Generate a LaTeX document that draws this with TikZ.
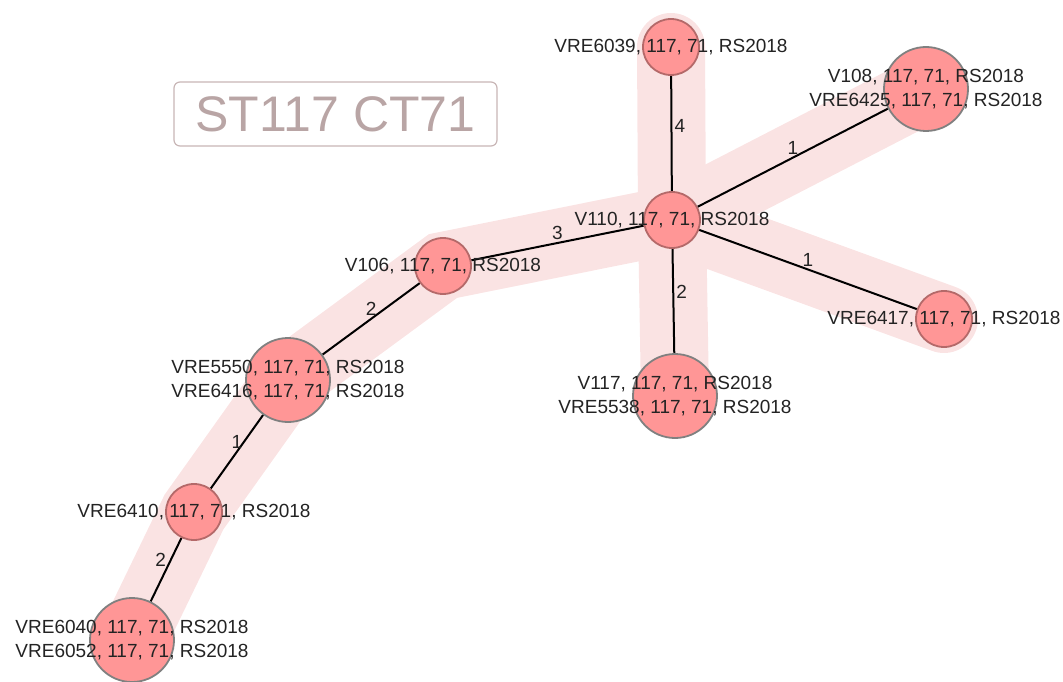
\documentclass[tikz,border=0pt]{standalone}
\usepackage{fontspec}
\setmainfont{Liberation Sans}
\usetikzlibrary{positioning}
\definecolor{bandpink}{RGB}{250,227,227}
\definecolor{nodered}{RGB}{255,150,150}
\definecolor{rimred}{RGB}{180,105,105}
\definecolor{rimgray}{RGB}{128,128,128}
\definecolor{txtgray}{RGB}{35,35,35}
\definecolor{titlerose}{RGB}{185,165,165}
\definecolor{boxrose}{RGB}{200,182,182}
\pgfdeclarelayer{band}
\pgfdeclarelayer{edges}
\pgfsetlayers{band,edges,main}

\begin{document}
\begin{tikzpicture}[
  x=1pt,y=-1pt,
  every node/.style={font=\fontsize{19}{24}\selectfont,text=txtgray},
  isolate/.style={circle,draw=rimred,fill=nodered,line width=1.8pt,
                  minimum size=56pt,inner sep=0pt},
  pair/.style={isolate,draw=rimgray,minimum size=84pt},
  tag/.style={align=center,inner sep=0pt},
  link/.style={line width=2pt,black},
  dist/.style={inner sep=2pt},
]
  \useasboundingbox (0,0) rectangle (1063,682);

  % Title
  \node[draw=boxrose,rounded corners=6pt,line width=1.2pt,text=titlerose,
        font=\fontsize{50}{60}\selectfont,minimum width=323pt,minimum height=64pt]
    (title) at (335.5,114) {ST117 CT71};

  % Isolates
  \node[isolate,label={[tag]center:{V110, 117, 71, RS2018}}] (v110) at (672,220) {};
  \node[isolate,label={[tag]center:{VRE6039, 117, 71, RS2018}}] (v6039) at (671,47) {};
  \node[pair,label={[tag]center:{V108, 117, 71, RS2018\\VRE6425, 117, 71, RS2018}}]
    (v108) at (926,89) {};
  \node[isolate,label={[tag]center:{VRE6417, 117, 71, RS2018}}] (v6417) at (944,319) {};
  \node[pair,label={[tag]center:{V117, 117, 71, RS2018\\VRE5538, 117, 71, RS2018}}]
    (v117) at (675,396) {};
  \node[isolate,label={[tag]center:{V106, 117, 71, RS2018}}] (v106) at (443,266) {};
  \node[pair,label={[tag]center:{VRE5550, 117, 71, RS2018\\VRE6416, 117, 71, RS2018}}]
    (v5550) at (288,380) {};
  \node[isolate,label={[tag]center:{VRE6410, 117, 71, RS2018}}] (v6410) at (194,512) {};
  \node[pair,label={[tag]center:{VRE6040, 117, 71, RS2018\\VRE6052, 117, 71, RS2018}}]
    (v6040) at (132,640) {};

  % Cluster highlight
  \begin{pgfonlayer}{band}
    \draw[bandpink,line width=68pt,line cap=round,line join=miter]
      (v6040.center) -- (v6410.center) -- (v5550.center) -- (v106.center) -- (v110.center);
    \foreach \n in {v6039,v108,v6417,v117}
      \draw[bandpink,line width=68pt,line cap=round] (v110.center) -- (\n.center);
  \end{pgfonlayer}

  % Links with allele distances
  \begin{pgfonlayer}{edges}
    \draw[link] (v110) -- (v6039) node[dist,midway,right,yshift=8pt] {4};
    \draw[link] (v110) -- (v108) node[dist,midway,above] {1};
    \draw[link] (v110) -- (v6417) node[dist,midway,above] {1};
    \draw[link] (v110) -- (v117) node[dist,midway,right,yshift=9pt] {2};
    \draw[link] (v110) -- (v106) node[dist,midway,above] {3};
    \draw[link] (v106) -- (v5550) node[dist,midway,above] {2};
    \draw[link] (v5550) -- (v6410) node[dist,midway,above] {1};
    \draw[link] (v6410) -- (v6040) node[dist,midway,above left,xshift=3pt] {2};
  \end{pgfonlayer}
\end{tikzpicture}
\end{document}
